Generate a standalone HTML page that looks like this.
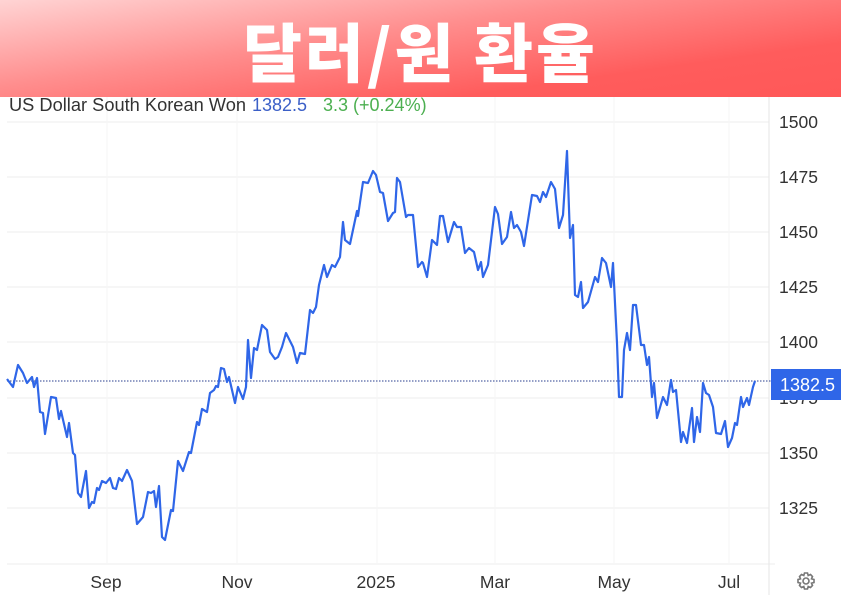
<!DOCTYPE html>
<html><head><meta charset="utf-8"><style>
body{margin:0;width:841px;height:595px;overflow:hidden;background:#fff;font-family:"Liberation Sans",Arial,sans-serif}
.hdr{position:absolute;left:0;top:0;width:841px;height:97px;background:linear-gradient(172deg,#ffd4d4 0%,#ff8e8e 40%,#ff5c5c 75%,#ff5858 100%)}
.ttl{position:absolute;left:0;top:8px;width:841px;text-align:center;color:#fff;font:900 64px "Noto Sans CJK KR","NanumGothic",sans-serif;letter-spacing:3px;line-height:84px}
</style></head><body>
<div class="hdr"></div>
<div class="ttl">달러/원 환율</div>
<svg width="841" height="595" style="position:absolute;left:0;top:0" font-family="Liberation Sans, Arial, sans-serif">
<g stroke="#ececec" stroke-width="1">
<line x1="7" y1="122" x2="769" y2="122"/><line x1="7" y1="177" x2="769" y2="177"/><line x1="7" y1="232" x2="769" y2="232"/><line x1="7" y1="287" x2="769" y2="287"/><line x1="7" y1="342" x2="769" y2="342"/><line x1="7" y1="398" x2="769" y2="398"/><line x1="7" y1="453" x2="769" y2="453"/><line x1="7" y1="508" x2="769" y2="508"/><line x1="7" y1="564" x2="775" y2="564"/>
</g>
<g stroke="#f6f6f6"><line x1="107" y1="97" x2="107" y2="564"/><line x1="237" y1="97" x2="237" y2="564"/><line x1="377" y1="97" x2="377" y2="564"/><line x1="495" y1="97" x2="495" y2="564"/><line x1="614" y1="97" x2="614" y2="564"/><line x1="729" y1="97" x2="729" y2="564"/></g>
<line x1="769" y1="97" x2="769" y2="595" stroke="#e6e6e6"/>
<text x="9" y="111" font-size="18" fill="#333" textLength="237" lengthAdjust="spacingAndGlyphs">US Dollar South Korean Won</text>
<text x="252" y="111" font-size="18" fill="#3b5fc7">1382.5</text>
<text x="323" y="111" font-size="18" fill="#4caf50">3.3 (+0.24%)</text>
<g font-size="17.5" fill="#333">
<text x="779" y="128">1500</text><text x="779" y="183">1475</text><text x="779" y="238">1450</text><text x="779" y="293">1425</text><text x="779" y="348">1400</text><text x="779" y="404">1375</text><text x="779" y="459">1350</text><text x="779" y="514">1325</text>
</g>
<g font-size="17.5" fill="#333" text-anchor="middle">
<text x="106" y="588">Sep</text><text x="237" y="588">Nov</text><text x="376" y="588">2025</text><text x="495" y="588">Mar</text><text x="614" y="588">May</text><text x="729" y="588">Jul</text>
</g>
<line x1="7" y1="381" x2="771" y2="381" stroke="#2a3f8f" stroke-width="1" stroke-dasharray="1.5,1.5"/>
<polyline fill="none" stroke="#2f66e8" stroke-width="2.2" stroke-linejoin="round" points="7,379 13,387 18,365 23,373 27,383 32,377 34,387 37,378 40,412 43,413 45,434 51,397 56,398 59,419 61,411 67,437 69,423 73,453 75,455 78,493 81,497 86,471 89,508 92,502 94,503 97,488 99,490 102,481 106,483 110,478 113,488 116,489 119,478 122,481 127,470 132,481 137,524 143,517 148,492 151,493 154,491 156,507 159,486 162,537 165,540 171,510 173,511 178,461 183,471 189,452 191,453 197,422 199,425 202,409 207,412 210,393 214,390 216,386 218,387 221,368 224,369 227,382 229,377 235,403 238,387 243,399 246,387 248,340 251,378 254,348 257,350 262,325 267,330 270,352 275,359 278,357 282,347 286,333 293,347 297,363 300,353 305,354 310,310 313,313 316,307 319,285 324,265 327,277 332,265 335,267 340,257 343,222 345,240 350,244 357,211 358,216 363,182 368,183 373,171 376,175 380,192 383,193 388,221 393,213 395,212 397,178 400,182 406,217 408,215 413,215 418,267 422,262 423,263 427,277 432,240 437,245 440,216 443,216 448,242 454,222 457,227 461,227 465,253 469,248 474,252 478,270 481,262 483,277 488,265 495,207 498,214 502,244 507,237 511,212 514,228 517,225 521,232 524,246 532,195 537,196 540,202 543,192 546,197 551,182 555,189 559,228 563,215 567,151 570,238 573,225 575,295 578,297 581,282 583,308 588,302 595,277 598,282 602,258 606,263 611,287 613,263 617,343 619,397 622,397 624,350 627,333 630,350 633,305 636,305 641,345 644,345 647,365 649,357 652,397 654,383 657,418 663,397 667,405 671,380 673,392 676,390 681,442 683,432 687,443 692,408 694,442 697,417 700,432 703,383 706,393 709,395 713,407 716,433 721,434 725,421 728,447 732,438 735,423 737,425 741,397 743,407 747,398 749,405 753,387 755,381"/>
<rect x="771" y="369" width="70" height="31" fill="#2f66e8"/>
<text x="780" y="391" font-size="18" fill="#fff">1382.5</text>
<g transform="translate(806,581)" fill="none" stroke="#777" stroke-width="1.6">
<circle r="3"/><path d="M-1.5,-8 L1.5,-8 L2.2,-5.5 L4.5,-6.5 L6.5,-4.5 L5.5,-2.2 L8,-1.5 L8,1.5 L5.5,2.2 L6.5,4.5 L4.5,6.5 L2.2,5.5 L1.5,8 L-1.5,8 L-2.2,5.5 L-4.5,6.5 L-6.5,4.5 L-5.5,2.2 L-8,1.5 L-8,-1.5 L-5.5,-2.2 L-6.5,-4.5 L-4.5,-6.5 L-2.2,-5.5 Z"/>
</g>
</svg>
</body></html>
